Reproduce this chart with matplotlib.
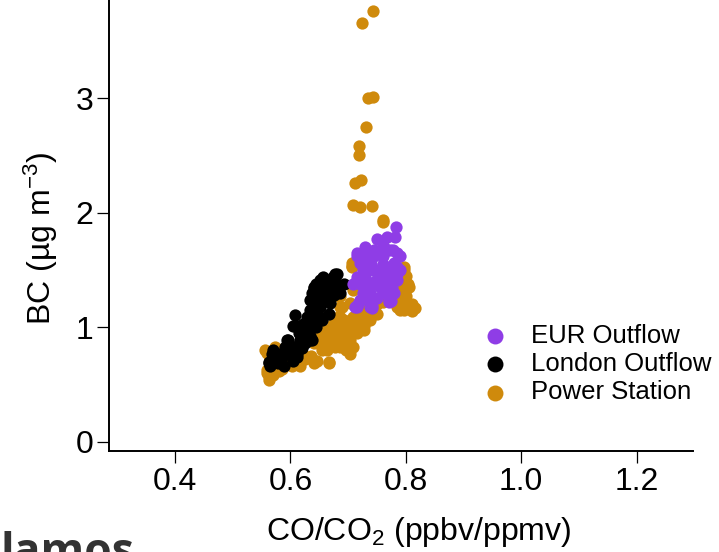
import matplotlib
matplotlib.use("Agg")
import matplotlib.pyplot as plt

plt.rcParams['font.family'] = ['Liberation Sans', 'DejaVu Sans']
plt.rcParams['mathtext.fontset'] = 'custom'
plt.rcParams['mathtext.rm'] = 'Liberation Sans'
plt.rcParams['mathtext.it'] = 'Liberation Sans'
plt.rcParams['mathtext.default'] = 'regular'

# --- data (CO/CO2 ratio, BC) ---
power_x = [0.743, 0.724, 0.735, 0.743, 0.731, 0.719, 0.718, 0.722, 0.712, 0.709, 0.721, 0.741, 0.761, 0.761,
           0.562, 0.559, 0.562, 0.559, 0.556, 0.559, 0.573, 0.565, 0.585, 0.602, 0.617, 0.611, 0.625, 0.640,
           0.643, 0.646, 0.666, 0.666, 0.654, 0.663, 0.677, 0.686, 0.697, 0.703, 0.709, 0.640, 0.660, 0.657,
           0.622, 0.674, 0.651, 0.669, 0.640, 0.651, 0.677, 0.674, 0.680, 0.697, 0.703, 0.715, 0.706, 0.721,
           0.727, 0.727, 0.727, 0.738, 0.692, 0.686, 0.683, 0.686, 0.709, 0.721, 0.732, 0.732, 0.744, 0.689,
           0.686, 0.703, 0.683, 0.686, 0.683, 0.709, 0.709, 0.706, 0.706,
           0.796, 0.799, 0.790, 0.796, 0.796, 0.801, 0.796, 0.807, 0.816, 0.810, 0.796, 0.790, 0.784, 0.778,
           0.800, 0.803, 0.706,
           0.680, 0.690, 0.700, 0.710, 0.700, 0.720, 0.715, 0.730, 0.740, 0.750, 0.660, 0.670, 0.690, 0.695,
           0.665, 0.655, 0.635, 0.620, 0.600, 0.580, 0.570, 0.590, 0.790, 0.800, 0.805, 0.785, 0.790, 0.810,
           0.795, 0.750, 0.760]
power_y = [3.765, 3.66, 3.00, 3.01, 2.75, 2.58, 2.51, 2.29, 2.26, 2.07, 2.05, 2.06, 1.94, 1.92,
           0.57, 0.60, 0.54, 0.63, 0.80, 0.78, 0.83, 0.72, 0.64, 0.66, 0.66, 0.69, 0.72, 0.69,
           0.71, 0.71, 0.69, 0.70, 0.80, 0.80, 0.83, 0.83, 0.80, 0.77, 0.83, 0.86, 0.92, 0.89,
           0.89, 0.92, 0.95, 0.95, 0.98, 1.01, 1.01, 1.03, 1.01, 1.01, 0.89, 0.95, 0.98, 1.01,
           0.98, 1.01, 1.03, 1.06, 1.06, 1.06, 1.09, 1.09, 1.09, 1.09, 1.12, 1.15, 1.18, 1.18,
           1.18, 1.21, 1.27, 1.27, 1.35, 1.33, 1.35, 1.53, 1.56,
           1.53, 1.41, 1.41, 1.50, 1.33, 1.27, 1.18, 1.18, 1.17, 1.14, 1.15, 1.15, 1.18, 1.24,
           1.45, 1.38, 1.54,
           0.95, 0.92, 0.95, 1.03, 1.05, 1.06, 1.12, 1.08, 1.10, 1.12, 0.85, 0.88, 0.86, 0.98,
           0.98, 0.83, 0.75, 0.78, 0.70, 0.62, 0.58, 0.68, 1.30, 1.22, 1.35, 1.35, 1.25, 1.20,
           1.47, 1.20, 1.22]

london_x = [0.562, 0.562, 0.565, 0.568, 0.570, 0.579, 0.579, 0.582, 0.588, 0.591, 0.594, 0.594, 0.596,
            0.599, 0.602, 0.605, 0.611, 0.611, 0.605, 0.608, 0.608, 0.611, 0.617, 0.622, 0.625, 0.625,
            0.625, 0.628, 0.631, 0.634, 0.634, 0.634, 0.634, 0.637, 0.637, 0.640, 0.640, 0.643, 0.646,
            0.648, 0.651, 0.651, 0.651, 0.651, 0.654, 0.657, 0.657, 0.660, 0.663, 0.666, 0.666, 0.669,
            0.672, 0.674, 0.677, 0.680, 0.680, 0.686, 0.692, 0.615, 0.620, 0.640, 0.645, 0.630,
            0.570, 0.585, 0.600, 0.615, 0.620, 0.630, 0.640, 0.645, 0.655, 0.660, 0.665, 0.670,
            0.675, 0.650, 0.645]
london_y = [0.70, 0.69, 0.66, 0.77, 0.80, 0.72, 0.69, 0.77, 0.66, 0.83, 0.89, 0.80, 0.89,
            0.83, 0.74, 0.71, 0.74, 0.77, 1.01, 1.01, 1.11, 1.01, 0.89, 1.03, 1.03, 0.86,
            0.95, 1.09, 1.06, 0.89, 0.92, 1.15, 1.24, 0.89, 1.30, 1.34, 1.35, 1.27, 1.18,
            1.21, 1.09, 1.18, 1.30, 1.41, 1.06, 1.43, 1.44, 1.36, 1.24, 1.24, 1.12, 1.21,
            1.33, 1.44, 1.47, 1.38, 1.47, 1.30, 1.38, 0.95, 0.82, 1.12, 1.00, 0.98,
            0.74, 0.74, 0.78, 0.85, 0.92, 0.98, 1.05, 1.15, 1.25, 1.30, 1.40, 1.37,
            1.28, 1.35, 1.38]

eur_x = [0.783, 0.781, 0.767, 0.750, 0.744, 0.715, 0.715, 0.727, 0.767, 0.773, 0.778, 0.784, 0.790,
         0.761, 0.721, 0.732, 0.784, 0.784, 0.715, 0.709, 0.715, 0.727, 0.744, 0.744, 0.767, 0.784,
         0.750, 0.767, 0.767, 0.738, 0.721, 0.732, 0.712, 0.715, 0.738, 0.741, 0.770, 0.770, 0.755,
         0.776, 0.730, 0.760, 0.725, 0.750, 0.740, 0.790, 0.760, 0.725, 0.775, 0.735, 0.745, 0.720,
         0.760, 0.774, 0.717, 0.742, 0.730, 0.760, 0.750, 0.735, 0.780, 0.755, 0.730, 0.750, 0.780]
eur_y = [1.88, 1.79, 1.79, 1.77, 1.68, 1.65, 1.62, 1.65, 1.68, 1.68, 1.68, 1.65, 1.62,
         1.62, 1.56, 1.59, 1.53, 1.47, 1.44, 1.38, 1.41, 1.35, 1.38, 1.50, 1.41, 1.41,
         1.50, 1.50, 1.38, 1.30, 1.24, 1.24, 1.18, 1.18, 1.18, 1.17, 1.24, 1.22, 1.35,
         1.34, 1.45, 1.45, 1.50, 1.42, 1.55, 1.50, 1.30, 1.30, 1.45, 1.40, 1.62, 1.38,
         1.55, 1.23, 1.20, 1.19, 1.70, 1.72, 1.65, 1.50, 1.56, 1.46, 1.28, 1.26, 1.30]

PURPLE = '#8f3de6'
ORANGE = '#cf8a0c'

fig = plt.figure(figsize=(7.19, 5.52), dpi=100)
ax = fig.add_axes([0.152, 0.1835, 0.812, 0.8165])

ms = 78
ps = ax.scatter(power_x, power_y, s=ms, color=ORANGE, linewidths=0, zorder=2)
lo = ax.scatter(london_x, london_y, s=ms, color='black', linewidths=0, zorder=3)
eu = ax.scatter(eur_x, eur_y, s=ms, color=PURPLE, linewidths=0, zorder=4)

ax.set_xlim(0.286, 1.298)
ax.set_ylim(-0.078, 3.86)
ax.set_xticks([0.4, 0.6, 0.8, 1.0, 1.2])
ax.set_xticklabels(['0.4', '0.6', '0.8', '1.0', '1.2'])
ax.set_yticks([0, 1, 2, 3])
for s in ['top', 'right']:
    ax.spines[s].set_visible(False)
for s in ['left', 'bottom']:
    ax.spines[s].set_linewidth(1.4)
ax.tick_params(axis='both', length=8.5, width=0.9, labelsize=23, pad=3)

ax.set_xlabel('CO/CO$_2$ (ppbv/ppmv)', fontsize=23)
ax.set_ylabel('BC (µg m$^{-3}$)', fontsize=23)
ax.xaxis.set_label_coords(0.53, -0.142)
ax.yaxis.set_label_coords(-0.085, 0.47)

ax.legend([eu, lo, ps], ['EUR Outflow', 'London Outflow', 'Power Station'],
          loc='upper left', bbox_to_anchor=(0.653, 0.437), bbox_transform=fig.transFigure,
          frameon=False, fontsize=18.5, borderpad=0, handlelength=1.0, handletextpad=0.9,
          labelspacing=0.17, markerscale=1.3)

fig.text(0.0, -0.024, 'lamos', fontsize=32, fontweight='bold', family='Open Sans',
         color='#333333', va='baseline', ha='left')

fig.savefig('out.png', dpi=100)
